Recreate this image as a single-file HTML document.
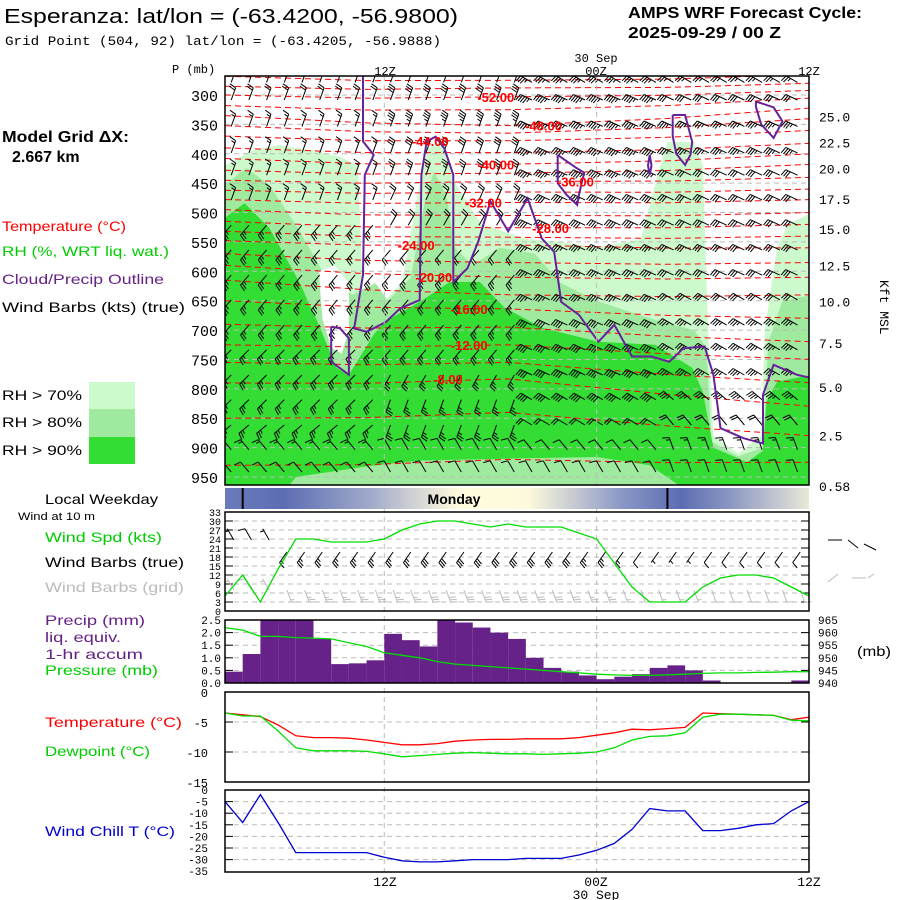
<!DOCTYPE html>
<html><head><meta charset="utf-8"><style>
html,body{margin:0;padding:0;background:#fff;}
svg{display:block;font-family:"Liberation Sans",sans-serif;}
.m{font-family:"Liberation Mono",monospace;}
</style></head><body>
<svg id="c" width="900" height="900" viewBox="0 0 900 900" xmlns="http://www.w3.org/2000/svg">
<defs>
<clipPath id="mainclip"><rect x="225" y="76" width="584" height="409"/></clipPath>
<linearGradient id="wk" x1="0" x2="1" y1="0" y2="0">
<stop offset="0" stop-color="#6a7bbb"/><stop offset="0.1" stop-color="#5c6db2"/><stop offset="0.25" stop-color="#a2aacb"/>
<stop offset="0.4" stop-color="#fffbdc"/><stop offset="0.52" stop-color="#fdf9dc"/><stop offset="0.68" stop-color="#8a97c6"/>
<stop offset="0.78" stop-color="#5c6db2"/><stop offset="0.86" stop-color="#8894c2"/><stop offset="1" stop-color="#e8e8d8"/>
</linearGradient>
</defs>
<g>
<text x="4" y="23" font-size="20" textLength="454" lengthAdjust="spacingAndGlyphs">Esperanza:  lat/lon = (-63.4200, -56.9800)</text>
<text x="5" y="45" font-size="13" class="m" textLength="436" lengthAdjust="spacingAndGlyphs">Grid Point (504, 92) lat/lon = (-63.4205, -56.9888)</text>
<text x="628" y="18" font-size="16" font-weight="bold" textLength="234" lengthAdjust="spacingAndGlyphs">AMPS WRF Forecast Cycle:</text>
<text x="628" y="38" font-size="16" font-weight="bold" textLength="153" lengthAdjust="spacingAndGlyphs">2025-09-29 / 00  Z</text>
<text x="2" y="142" font-size="16" font-weight="bold" textLength="127" lengthAdjust="spacingAndGlyphs">Model Grid ΔX:</text>
<text x="12" y="162" font-size="16" font-weight="bold">2.667 km</text>
</g>
<g font-size="14">
<text x="2" y="231" fill="#ff0000" textLength="124" lengthAdjust="spacingAndGlyphs">Temperature (°C)</text>
<text x="2" y="256" fill="#00cc00" textLength="167" lengthAdjust="spacingAndGlyphs">RH (%, WRT liq. wat.)</text>
<text x="2" y="284" fill="#662288" textLength="162" lengthAdjust="spacingAndGlyphs">Cloud/Precip Outline</text>
<text x="2" y="312" fill="#000" textLength="183" lengthAdjust="spacingAndGlyphs">Wind Barbs (kts) (true)</text>
<text x="2" y="400" textLength="80" lengthAdjust="spacingAndGlyphs">RH &gt; 70%</text>
<text x="2" y="427" textLength="80" lengthAdjust="spacingAndGlyphs">RH &gt; 80%</text>
<text x="2" y="455" textLength="80" lengthAdjust="spacingAndGlyphs">RH &gt; 90%</text>
<rect x="89" y="382" width="46" height="27" fill="#ccfacc"/>
<rect x="89" y="409" width="46" height="28" fill="#a0eaa0"/>
<rect x="89" y="437" width="46" height="27" fill="#33dd33"/>
<text x="45" y="504" textLength="113" lengthAdjust="spacingAndGlyphs">Local Weekday</text>
<text x="18" y="520" font-size="11" textLength="77" lengthAdjust="spacingAndGlyphs">Wind at 10 m</text>
<text x="45" y="542" fill="#00cc00" textLength="117" lengthAdjust="spacingAndGlyphs">Wind Spd (kts)</text>
<text x="45" y="567" textLength="139" lengthAdjust="spacingAndGlyphs">Wind Barbs (true)</text>
<text x="45" y="592" fill="#bbbbbb" textLength="139" lengthAdjust="spacingAndGlyphs">Wind Barbs (grid)</text>
<text x="45" y="625" fill="#662288" textLength="100" lengthAdjust="spacingAndGlyphs">Precip (mm)</text>
<text x="45" y="642" fill="#662288" textLength="76" lengthAdjust="spacingAndGlyphs">liq. equiv.</text>
<text x="45" y="659" fill="#662288" textLength="98" lengthAdjust="spacingAndGlyphs">1-hr accum</text>
<text x="45" y="675" fill="#00cc00" textLength="113" lengthAdjust="spacingAndGlyphs">Pressure (mb)</text>
<text x="45" y="727" fill="#ff0000" textLength="137" lengthAdjust="spacingAndGlyphs">Temperature (°C)</text>
<text x="45" y="756" fill="#00cc00" textLength="105" lengthAdjust="spacingAndGlyphs">Dewpoint (°C)</text>
<text x="45" y="836" fill="#0000cc" textLength="130" lengthAdjust="spacingAndGlyphs">Wind Chill T (°C)</text>
<text x="857" y="656" textLength="34" lengthAdjust="spacingAndGlyphs">(mb)</text>
<text x="880" y="280" transform="rotate(90 880 280)" font-size="13" class="m">Kft MSL</text>
</g>
<g id="plot"></g>
</svg>
<script>
// ---------- data ----------
const hours = [0,1,2,3,4,5,6,7,8,9,10,11,12,13,14,15,16,17,18,19,20,21,22,23,24,25,26,27,28,29,30,31,32,33];
const windSpd = [5,12,3,14,24,24,23,23,23,24,27,29,30,30,29,28,29,28,28,28,26,24,16,8,3,3,3,8,11,12,12,11,8,5];
const precip = [0.45,1.15,2.5,2.5,2.5,1.75,0.75,0.78,0.9,1.95,1.7,1.45,2.5,2.4,2.2,2.0,1.75,1.0,0.6,0.45,0.3,0.15,0.25,0.35,0.6,0.7,0.5,0.1,0,0,0,0,0.1];
const pressure = [962,961,958.5,958.5,958,957.8,957.5,956,954.5,952,951,950,948.5,947.5,947,946.5,946,945.5,945,944.5,944,943.5,943.2,943,943,943.2,943.5,943.8,944,944,944.2,944.3,944.5,944.5];
const temp = [-3.5,-3.8,-4.1,-5.5,-7.3,-7.6,-7.6,-7.7,-8,-8.4,-8.8,-8.8,-8.6,-8.2,-8,-7.9,-7.9,-7.8,-7.8,-7.8,-7.6,-7.2,-6.8,-6.2,-6.3,-6.1,-5.9,-3.5,-3.6,-3.7,-3.8,-3.9,-4.6,-4.2];
const dewpt = [-3.5,-4,-4,-6.5,-9.3,-9.8,-9.8,-9.8,-9.9,-10.3,-10.8,-10.6,-10.4,-10.2,-10.1,-10.2,-10.3,-10.3,-10.4,-10.3,-10.2,-10,-9.3,-8,-7.4,-7.3,-6.8,-4.2,-3.7,-3.7,-3.8,-3.9,-4.7,-4.8];
const windChill = [-5,-14,-2,-14,-27,-27,-27,-27,-27,-29,-30.5,-31,-31,-30.5,-30,-30,-30,-29.5,-29.5,-29.5,-28,-26,-23,-17,-8,-9,-9,-17.5,-17.5,-16.5,-15,-14.5,-9,-5];
const pLevels = [300,350,400,450,500,550,600,650,700,750,800,850,900,950];
const kftLabels = ["25.0","22.5","20.0","17.5","15.0","12.5","10.0","7.5","5.0","2.5","0.58"];
const kftPress = [337,381,425,477,528,590,651,722,797,879,965];
const rh70 = [[0,420],[1.5,395],[3,385],[5,395],[6.5,405],[7.5,420],[7.8,640],[9,650],[10,620],[11,450],[11.5,390],[12.2,380],[13,450],[14.5,520],[17,545],[19,550],[21,560],[23.5,545],[24.5,430],[25,380],[26.5,380],[27,420],[27.3,700],[27.6,880],[29,910],[30.3,880],[30.5,700],[31.2,560],[31.8,520],[33.2,500],[33.2,1000],[0,1000]];
const rh80 = [[0,453],[1.2,424],[2.5,453],[4.2,530],[5.5,600],[7.2,640],[8.5,620],[9.2,650],[10.5,610],[11.3,480],[11.8,430],[12.5,470],[13,560],[14,590],[15.5,560],[17.5,570],[19,620],[21,650],[24,680],[26.5,700],[27.2,730],[27.5,890],[29,915],[30.4,900],[30.7,720],[31.5,650],[33.2,640],[33.2,1000],[0,1000]];
const rh90 = [[0,509],[1.1,484],[2.5,526],[4.2,618],[5.3,691],[6.3,764],[7,776],[8.4,708],[9,686],[11,652],[12.7,618],[14.4,618],[15.8,662],[17.9,696],[21.1,720],[24.3,725],[26.4,764],[27,805],[27.6,900],[29.5,925],[30.4,905],[30.6,822],[31.2,788],[33.2,776],[33.2,1000],[0,1000]];
const rhBottom = [[2.7,1000],[4,950],[8,932],[11,922],[17,918],[21,916],[24,930],[27.4,1000]];
const rhHoleL = [[5.3,600],[6.2,590],[7,620],[7,700],[6.6,740],[6,730],[5.5,680]];
const cloudMain = [[7.8,266],[7.8,379],[8.4,402],[7.9,436],[7.8,606],[7.3,697],[8.0,703],[9.1,686],[9.9,663],[11.0,649],[11.1,436],[11.4,379],[11.9,371],[12.4,391],[12.9,436],[12.9,618],[13.7,595],[14.3,550],[15.0,481],[16.0,532],[17.1,476],[17.9,544],[18.6,567],[19.0,652],[20.0,674],[21.1,720],[22.0,691],[23.0,745],[24.1,745],[25.1,754],[25.9,731],[27.1,728],[27.6,776],[28.0,867],[29.3,884],[30.4,893],[30.4,810],[31.0,759],[32.3,776],[33.2,782]];
const cloudLoops = [
 [[6,694],[6.5,697],[7,714],[7,776],[6,754],[6,694]],
 [[18.8,402],[19.8,423],[20.3,432],[20.0,470],[19.9,487],[19.3,470],[18.8,450],[18.8,402]],
 [[25.3,334],[26.0,334],[26.4,380],[26.3,402],[26.0,419],[25.5,400],[25.3,370],[25.3,334]],
 [[30,311],[31,321],[31.5,345],[31,373],[30.3,350],[30,320],[30,311]],
 [[24,402],[24.1,420],[24,436],[23.9,420],[24,402]]
];
const isoT = [-56,-54,-52,-50,-48,-46,-44,-42,-40,-38,-36,-34,-32,-30,-28,-26,-24,-22,-20,-18,-16,-14,-12,-10,-8,-6,-4];
const isoPLeft = [268,285,300,318,335,352,370,390,408,428,445,462,478,495,515,532,548,570,590,615,650,690,725,755,790,850,930];
const isoPMid = [275,288,303,325,352,365,378,398,418,433,447,465,483,505,526,542,555,585,610,640,664,695,725,755,783,840,920];
const isoPRight = [265,280,292,305,322,340,360,382,400,418,440,460,478,500,520,540,560,585,610,640,680,720,750,790,830,880,925];
const isoLabelT = [-52,-48,-44,-40,-36,-32,-28,-24,-20,-16,-12,-8];
const isoLabelH = [15.3,18,11.6,15.3,19.8,14.6,18.4,10.8,11.8,13.8,13.8,12.6];
const barbP = [270,300,345,390,428,470,513,555,598,640,683,725,768,810,853,895,933];
const barbSpdA = [15,20,15,15,15,15,25,25,25,25,25,25,25,25,25,15,10];
const barbSpdB = [15,30,35,30,25,20,20,20,25,25,25,25,25,25,25,10,8];
const barbSpdC = [35,45,45,45,45,40,40,35,35,35,40,40,40,40,20,10,8];
const barbSpdD = [25,30,35,35,30,30,30,30,30,30,35,35,35,35,20,15,10];
const barbDirA = [20,20,20,20,20,20,220,220,220,220,220,225,225,225,230,320,320];
const barbDirB = [20,20,20,20,20,25,30,220,220,220,220,220,210,200,200,330,330];
const barbDirC = [300,295,295,295,295,295,295,295,295,295,295,295,295,300,300,320,330];
const barbDirD = [300,295,295,295,295,295,295,295,295,300,300,300,300,310,320,340,340];
const windTicks = [0,3,6,9,12,15,18,21,24,27,30,33];
const precipTicks = ["0.0","0.5","1.0","1.5","2.0","2.5"];
const pressTicks = [940,945,950,955,960,965];
const tempTicks = [0,-5,-10,-15];
const chillTicks = [0,-5,-10,-15,-20,-25,-30,-35];

// ---------- scales ----------
const xh = h => 225 + h*17.697;
const yp = p => 95 + (p-300)*0.5877;
const yWind = v => 611 - v*3;
const yPrec = v => 683 - v*25.2;
const yPres = p => 683 - (p-940)*2.52;
const yTemp = t => 692 - t*6;
const yChill = t => 790 - t*2.32;

const NS="http://www.w3.org/2000/svg";
const plot=document.getElementById('plot');
function mk(tag,attrs,parent){const e=document.createElementNS(NS,tag);for(const k in attrs)e.setAttribute(k,attrs[k]);(parent||plot).appendChild(e);return e;}
function grp(parent){return mk('g',{},parent);}
const pts=(arr,fx,fy)=>arr.map(d=>fx(d[0]).toFixed(1)+','+fy(d[1]).toFixed(1)).join(' ');

// ---------- main panel ----------
const main=mk('g',{'clip-path':'url(#mainclip)'});


[[rh70,'#ccfacc','rh70-area'],[rh80,'#a0eaa0','rh80-area'],[rhHoleL,'#ffffff','rh-dry-hole'],[rh90,'#33dd33','rh90-area'],[rhBottom,'#a0eaa0','rh-bottom-area']].forEach(([poly,col,nm])=>{
  const e=mk('polygon',{points:pts(poly,xh,yp),fill:col},main);
  
  
});
pLevels.forEach(p=>{
  const e=mk('line',{x1:225,x2:809,y1:yp(p),y2:yp(p),stroke:'#bbbbbb','stroke-dasharray':'5,4'},main);
  
  
});
[9,21].forEach(h=>{
  const e=mk('line',{x1:xh(h),x2:xh(h),y1:76,y2:872,stroke:'#bbbbbb','stroke-dasharray':'5,4'},plot);
  
  
});
isoT.forEach((t,i)=>{
  const path=[[0,isoPLeft[i]],[8,(isoPLeft[i]+isoPMid[i])/2+4],[16,isoPMid[i]],[25,(isoPMid[i]+isoPRight[i])/2+3],[33.2,isoPRight[i]]];
  const e=mk('polyline',{points:pts(path,xh,yp),fill:'none',stroke:'#ff0000','stroke-width':1,'stroke-dasharray':'6,4'},main);
  
  
});
function barb(g,x,y,spd,ang,col){
  const a=ang*Math.PI/180, L=13;
  const dx=Math.sin(a), dy=-Math.cos(a);
  const tx=x+dx*L, ty=y+dy*L;
  let d=`M${x.toFixed(1)},${y.toFixed(1)}L${tx.toFixed(1)},${ty.toFixed(1)}`;
  const fa=a-75*Math.PI/180, fx=Math.sin(fa), fy=-Math.cos(fa);
  let s=Math.round(spd/5)*5, pos=0, fill='';
  while(s>=50){const bx=tx-dx*pos,by=ty-dy*pos;fill+=`M${bx},${by}L${bx+fx*7},${by+fy*7}L${bx-dx*3},${by-dy*3}Z`;pos+=4;s-=50;}
  while(s>=10){const bx=tx-dx*pos,by=ty-dy*pos;d+=`M${bx.toFixed(1)},${by.toFixed(1)}l${(fx*7).toFixed(1)},${(fy*7).toFixed(1)}`;pos+=2.5;s-=10;}
  if(s>=5){if(pos===0)pos=2.5;const bx=tx-dx*pos,by=ty-dy*pos;d+=`M${bx.toFixed(1)},${by.toFixed(1)}l${(fx*4).toFixed(1)},${(fy*4).toFixed(1)}`;}
  const p=mk('path',{d:d,stroke:col,fill:'none','stroke-width':1},g);
  
  
  if(fill){const f=mk('path',{d:fill,fill:col,stroke:col,'stroke-width':0.6},g);
    
    }
}
const barbG=grp(main);


for(let c=0;c<33;c++){
  const seg=c<9?0:c<17?1:c<25?2:3;
  barbP.forEach((p,r)=>{
    const spd=[barbSpdA,barbSpdB,barbSpdC,barbSpdD][seg][r];
    const dir=[barbDirA,barbDirB,barbDirC,barbDirD][seg][r];
    barb(barbG,xh(c+0.35),yp(p)+5,spd,dir,'#000');
  });
}
const cm=mk('polyline',{points:pts(cloudMain,xh,yp),fill:'none',stroke:'#662299','stroke-width':2},main);


cloudLoops.forEach(l=>{const e=mk('polyline',{points:pts(l,xh,yp),fill:'none',stroke:'#662299','stroke-width':2},main);
  
  });
isoLabelT.forEach((t,i)=>{
  const k=isoT.indexOf(t);
  const e=mk('text',{x:xh(isoLabelH[i]),y:yp(isoPMid[k])+5,fill:'#ff0000','font-size':13,'font-weight':'bold','text-anchor':'middle'},main);
  e.textContent=t.toFixed(2);
  
  
});
const mb=mk('rect',{x:225,y:76,width:584,height:409,fill:'none',stroke:'#000','stroke-width':1.5});


pLevels.forEach(p=>{const e=mk('text',{x:218,y:yp(p)+6,'font-size':15,'text-anchor':'end',class:'m'});e.textContent=p;
  
  });
kftLabels.forEach((l,i)=>{const e=mk('text',{x:819,y:yp(kftPress[i])+5,'font-size':13,class:'m'});e.textContent=l;
  
  });
[['P (mb)',172,73,'p-axis-title'],['12Z',385,75,'top-time-12z'],['00Z',596,75,'top-time-00z'],['30 Sep',596,62,'top-date'],['12Z',809,75,'top-time-12z-end']].forEach(([t,x,y,n])=>{
  const e=mk('text',{x:x,y:y,'font-size':12,'text-anchor':n==='p-axis-title'?'start':'middle',class:'m'});e.textContent=t;
  
  });

// ---------- weekday bar ----------
const wk=mk('rect',{x:225,y:488,width:584,height:21,fill:'url(#wk)'});


[1,25].forEach(h=>{const e=mk('line',{x1:xh(h),x2:xh(h),y1:488,y2:509,stroke:'#000','stroke-width':2});
  
  });
const mon=mk('text',{x:454,y:504,'font-size':14,'font-weight':'bold','text-anchor':'middle'});mon.textContent='Monday';



// ---------- lower panels ----------
function frame(y1,y2,name){const e=mk('rect',{x:225,y:y1,width:584,height:y2-y1,fill:'none',stroke:'#000','stroke-width':1.5});
  
  }
function hgrid(y,name){const e=mk('line',{x1:225,x2:809,y1:y,y2:y,stroke:'#bbbbbb','stroke-dasharray':'5,4'});
  
  
  const t1=mk('line',{x1:225,x2:233,y1:y,y2:y,stroke:'#000'});
  const t2=mk('line',{x1:801,x2:809,y1:y,y2:y,stroke:'#000'});}
function lbl(x,y,t,name,anchor,size){const e=mk('text',{x:x,y:y,'font-size':size||12,'text-anchor':anchor||'end',class:'m'});e.textContent=t;
  
  }
function line(arr,fy,col,name){const e=mk('polyline',{points:arr.map((v,i)=>xh(hours[i]).toFixed(1)+','+fy(v).toFixed(1)).join(' '),fill:'none',stroke:col,'stroke-width':1.3});
  
  }

windTicks.forEach(v=>{if(v>0&&v<33)hgrid(yWind(v),'wind-gridline');lbl(221,yWind(v)+4,v,'wind-tick-label','end',10);});
const sfc=grp();


windSpd.slice(0,33).forEach((v,i)=>{
  barb(sfc,xh(i+0.5),i<3?540:552,v,i<3?330:215,'#000');
  barb(sfc,xh(i+0.5),590,v,i<3?330:160,'#bbbbbb');
});
line(windSpd,yWind,'#00dd00','wind-speed-line');
frame(512,611,'wind-panel-frame');
const ex1=mk('path',{d:'M828,540l14,0M848,540l10,8M864,544l12,6',stroke:'#000',fill:'none'});

const ex2=mk('path',{d:'M828,582l10,-8M852,578l14,0M868,578l6,-4',stroke:'#bbbbbb',fill:'none'});


precipTicks.forEach(t=>{const v=parseFloat(t);if(v>0&&v<2.5)hgrid(yPrec(v),'precip-gridline');lbl(221,yPrec(v)+4,t,'precip-tick-label','end',11);});
pressTicks.forEach(p=>lbl(818,yPres(p)+4,p,'pressure-tick-label','start',11));
precip.forEach((v,i)=>{const e=mk('rect',{x:xh(i),y:yPrec(Math.min(v,2.5)),width:17.7,height:683-yPrec(Math.min(v,2.5)),fill:'#662288'});
  
  });
line(pressure,yPres,'#00dd00','pressure-line');
frame(620,683,'precip-panel-frame');

tempTicks.forEach(v=>{if(v<0&&v>-15)hgrid(yTemp(v),'temp-gridline');lbl(208,yTemp(v)+5,v,'temp-tick-label','end',12);});
line(temp,yTemp,'#ff0000','temperature-line');
line(dewpt,yTemp,'#00dd00','dewpoint-line');
frame(692,782,'temp-panel-frame');

chillTicks.forEach(v=>{if(v<0&&v>-35)hgrid(yChill(v),'chill-gridline');lbl(208,yChill(v)+4,v,'chill-tick-label','end',11);});
line(windChill,yChill,'#0000cc','wind-chill-line');
frame(790,872,'chill-panel-frame');

lbl(385,886,'12Z','bottom-time-12z','middle',13);
lbl(596,886,'00Z','bottom-time-00z','middle',13);
lbl(809,886,'12Z','bottom-time-12z-end','middle',13);
lbl(596,899,'30 Sep','bottom-date','middle',13);
</script>
</body></html>
